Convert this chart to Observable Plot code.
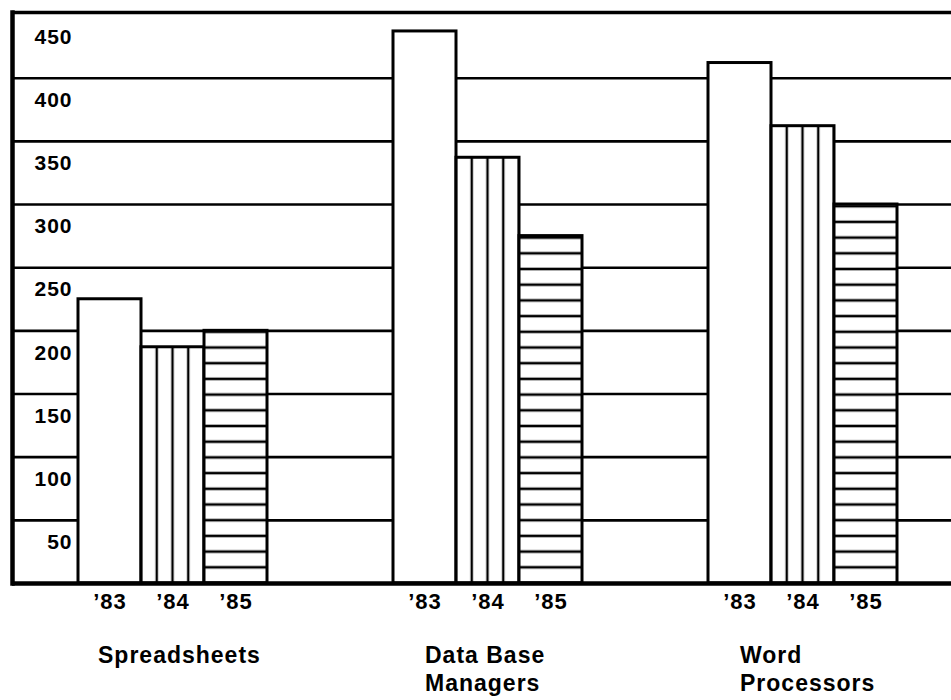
<!DOCTYPE html>
<html>
<head>
<meta charset="utf-8">
<script src="https://cdn.jsdelivr.net/npm/d3@7"></script>
<script src="https://cdn.jsdelivr.net/npm/@observablehq/plot@0.6"></script>
<style>
  html, body { margin: 0; padding: 0; background: #fff; }
  svg { display: block; }
  #chart svg text { letter-spacing: 1px; }
</style>
</head>
<body>
<div id="chart"></div>
<script>
// ---- data ----
const categories = ["Spreadsheets", "Data Base\nManagers", "Word\nProcessors"];
const years = ["’83", "’84", "’85"];
const values83 = [225, 437, 412];
const values84 = [187, 337, 362];
const values85 = [200, 275, 300];
const yTicks = [50, 100, 150, 200, 250, 300, 350, 400, 450];
const gridTicks = [50, 100, 150, 200, 250, 300, 350, 400];

const seriesByYear = [values83, values84, values85];
const data = categories.flatMap((c, i) =>
  years.map((yr, j) => ({ category: c, ci: i, year: yr, yi: j, key: `${i}-${j}`, value: seriesByYear[j][i] }))
);
// band domain: three bars per group, two empty slots between groups
const xDomain = [];
categories.forEach((c, i) => {
  years.forEach((yr, j) => xDomain.push(`${i}-${j}`));
  if (i < categories.length - 1) xDomain.push(`gap${i}a`, `gap${i}b`);
});
const catData = categories.map((c, i) => ({ label: c, ci: i, key: `${i}-0` }));

const font = "'Liberation Sans', Arial, Helvetica, sans-serif";

const chart = Plot.plot({
  width: 951,
  height: 700,
  marginLeft: 12,
  marginRight: 0,
  marginTop: 12,
  marginBottom: 117,
  style: { fontFamily: font, background: "#fff", color: "#000" },
  x: { type: "band", domain: xDomain, range: [78, 897], padding: 0, axis: null },
  y: { domain: [0, 452], axis: null },
  marks: [
    Plot.ruleY(gridTicks, { stroke: "#000", strokeWidth: 2.6 }),
    Plot.barY(data.filter(d => d.yi === 0), { x: "key", y: "value", fill: "#fff", stroke: "#000", strokeWidth: 3 }),
    Plot.barY(data.filter(d => d.yi === 1), { x: "key", y: "value", fill: "url(#vstripe)", stroke: "#000", strokeWidth: 3 }),
    Plot.barY(data.filter(d => d.yi === 2), { x: "key", y: "value", fill: "url(#hstripe)", stroke: "#000", strokeWidth: 3 }),
    Plot.ruleY([0], { stroke: "#000", strokeWidth: 4.5 }),
    Plot.ruleY([452], { stroke: "#000", strokeWidth: 3.5 }),
    Plot.frame({ anchor: "left", stroke: "#000", strokeWidth: 4.5 }),
    Plot.text(yTicks, { y: d => d, text: d => String(d), frameAnchor: "left", dx: 60, dy: 22, textAnchor: "end", fontSize: 21, fontWeight: "bold", fill: "#000" }),
    Plot.text(data, { x: "key", text: "year", frameAnchor: "bottom", dy: 25, fontSize: 22, fontWeight: "bold", fill: "#000" }),
    Plot.text(catData.filter(d => d.ci === 0), { x: "key", text: "label", frameAnchor: "bottom", textAnchor: "start", lineAnchor: "top", dx: -12, dy: 63, fontSize: 23, fontWeight: "bold", fill: "#000" }),
    Plot.text(catData.filter(d => d.ci > 0), { x: "key", text: "label", frameAnchor: "bottom", textAnchor: "start", lineAnchor: "top", dy: 60, lineHeight: 1.22, fontSize: 23, fontWeight: "bold", fill: "#000" })
  ]
});

// stripe patterns aligned to the chart's own scales
const xs = chart.scale("x");
const ys = chart.scale("y");
const bw = xs.bandwidth;
const x0 = xs.apply("0-1") - bw / 2;
const y0 = ys.apply(0);
const step = 15.7;
const svg = d3.select(chart);
const defs = svg.insert("defs", ":first-child");
const v = defs.append("pattern").attr("id", "vstripe").attr("patternUnits", "userSpaceOnUse")
  .attr("x", x0).attr("y", 0).attr("width", bw / 4).attr("height", 10);
v.append("rect").attr("width", bw / 4).attr("height", 10).attr("fill", "#fff");
v.append("rect").attr("x", -1).attr("width", 2.2).attr("height", 10).attr("fill", "#000");
v.append("rect").attr("x", bw / 4 - 1.2).attr("width", 2.2).attr("height", 10).attr("fill", "#000");
const h = defs.append("pattern").attr("id", "hstripe").attr("patternUnits", "userSpaceOnUse")
  .attr("x", 0).attr("y", y0).attr("width", 10).attr("height", step);
h.append("rect").attr("width", 10).attr("height", step).attr("fill", "#fff");
h.append("rect").attr("y", -1.3).attr("width", 10).attr("height", 2.6).attr("fill", "#000");
h.append("rect").attr("y", step - 1.3).attr("width", 10).attr("height", 2.6).attr("fill", "#000");

document.getElementById("chart").appendChild(chart);
</script>
</body>
</html>
